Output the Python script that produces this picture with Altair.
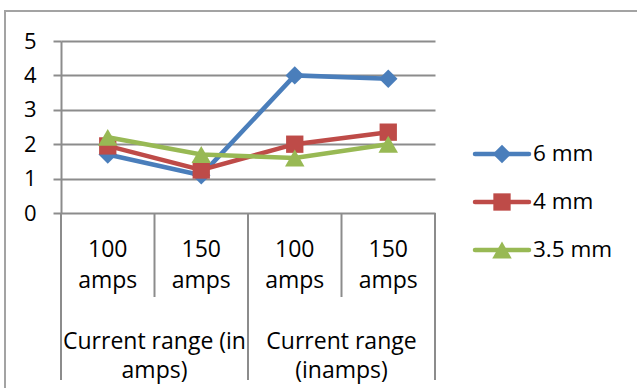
import altair as alt
import pandas as pd

# Category axis: two groups, each split into two current settings
groups = ["Current range (in amps)", "Current range (inamps)"]
group_labels = ["Current range (in\namps)", "Current range\n(inamps)"]
subs = ["100 amps", "150 amps"]
sub_labels = ["100\namps", "150\namps"]

# Series (electrode diameter) and their values per category
series = ["6 mm", "4 mm", "3.5 mm"]
values_6mm = [1.7, 1.1, 4.0, 3.9]
values_4mm = [1.95, 1.25, 2.0, 2.35]
values_35mm = [2.2, 1.7, 1.6, 2.0]
series_values = [values_6mm, values_4mm, values_35mm]

y_ticks = [0, 1, 2, 3, 4, 5]

colors = ["#4A7EBB", "#BE4B48", "#98B954"]
shapes = ["diamond", "square", "triangle-up"]
sizes = [340, 300, 380]

FONT = "Open Sans"
GRID = "#8c8c8c"
W, H = 374, 172

# Build tables
cats = []
for gi, g in enumerate(groups):
    for si, s in enumerate(subs):
        cats.append({"group": g, "sub": s, "sub_label": sub_labels[si],
                     "pos": gi * len(subs) + si + 0.5})
cat_df = pd.DataFrame(cats)

rows = []
for name, vals in zip(series, series_values):
    for c, v in zip(cats, vals):
        rows.append({"series": name, "pos": c["pos"], "value": v})
df = pd.DataFrame(rows)

n_cats = len(cats)
sub_bounds = pd.DataFrame({"b": list(range(n_cats + 1))})
grp_bounds = pd.DataFrame({"b": [i * len(subs) for i in range(len(groups) + 1)]})
grp_df = pd.DataFrame({
    "label": group_labels,
    "pos": [i * len(subs) + len(subs) / 2 for i in range(len(groups))],
})

xscale = alt.Scale(domain=[0, n_cats], nice=False, zero=False)
yscale = alt.Scale(domain=[0, 5], nice=False, zero=True)
cscale = alt.Scale(domain=series, range=colors)
sscale = alt.Scale(domain=series, range=shapes)

yaxis = alt.Axis(
    values=y_ticks, tickCount=6, title=None, grid=True, gridColor=GRID,
    gridWidth=2, domainColor=GRID, domainWidth=2, tickColor=GRID,
    tickWidth=2, tickSize=8, labelPadding=17, labelFont=FONT,
    labelFontSize=22, labelColor="black", labelOverlap=False, format="d")
y_enc = alt.Y("value:Q", scale=yscale, axis=yaxis)
x_enc = alt.X("pos:Q", scale=xscale, axis=None)

# Outer frame
frame = alt.Chart(pd.DataFrame({"k": [0]})).mark_rect(
    fillOpacity=0, stroke="#a3a3a3", strokeWidth=2
).encode(x=alt.value(-56), x2=alt.value(700), y=alt.value(-30), y2=alt.value(420))

# Category dividers
sub_div = alt.Chart(sub_bounds).mark_rule(color=GRID, strokeWidth=2).encode(
    x=alt.X("b:Q", scale=xscale, axis=None), y=alt.value(H), y2=alt.value(256))
grp_div = alt.Chart(grp_bounds).mark_rule(color=GRID, strokeWidth=2).encode(
    x=alt.X("b:Q", scale=xscale, axis=None), y=alt.value(H), y2=alt.value(339))

sub_text = alt.Chart(cat_df).mark_text(
    font=FONT, fontSize=23, color="black", baseline="alphabetic",
    lineBreak="\n", lineHeight=31, align="center"
).encode(x=x_enc, y=alt.value(216), text="sub_label:N")
grp_text = alt.Chart(grp_df).mark_text(
    font=FONT, fontSize=23, color="black", baseline="alphabetic",
    lineBreak="\n", lineHeight=29, align="center"
).encode(x=x_enc, y=alt.value(308), text="label:N")

layers = []

# Series lines with markers, drawn in series order
for i, name in enumerate(series):
    sdf = df[df["series"] == name]
    col = alt.Color("series:N", scale=cscale, legend=None)
    line = alt.Chart(sdf).mark_line(strokeWidth=4.5).encode(
        x=x_enc, y=y_enc, color=col)
    pts = alt.Chart(sdf).mark_point(filled=True, opacity=1, size=sizes[i]).encode(
        x=x_enc, y=y_enc, color=col,
        shape=alt.Shape("series:N", scale=sscale, legend=None))
    layers += [line, pts]

layers += [frame, sub_div, grp_div, sub_text, grp_text]

# Legend entries
leg_df = pd.DataFrame({"series": series})
for i, name in enumerate(series):
    ldf = leg_df[leg_df["series"] == name]
    ry = 113 + 48 * i
    col = alt.Color("series:N", scale=cscale, legend=None)
    lr = alt.Chart(ldf).mark_rule(strokeWidth=4.5, strokeCap="round").encode(
        x=alt.value(414), x2=alt.value(468), y=alt.value(ry), color=col)
    lp = alt.Chart(ldf).mark_point(filled=True, opacity=1, size=sizes[i]).encode(
        x=alt.value(441), y=alt.value(ry), color=col,
        shape=alt.Shape("series:N", scale=sscale, legend=None))
    lt = alt.Chart(ldf).mark_text(
        font=FONT, fontSize=22.5, color="black", align="left", baseline="middle"
    ).encode(x=alt.value(472), y=alt.value(ry), text="series:N")
    layers += [lr, lp, lt]

chart = alt.layer(*layers).properties(
    width=W, height=H,
    padding={"left": 61, "top": 41, "right": 202, "bottom": 175},
    autosize=alt.AutoSizeParams(type="none"),
    background="white",
).configure_view(stroke=None)

chart.save("out.html", embed_options={"renderer": "svg", "actions": False})
